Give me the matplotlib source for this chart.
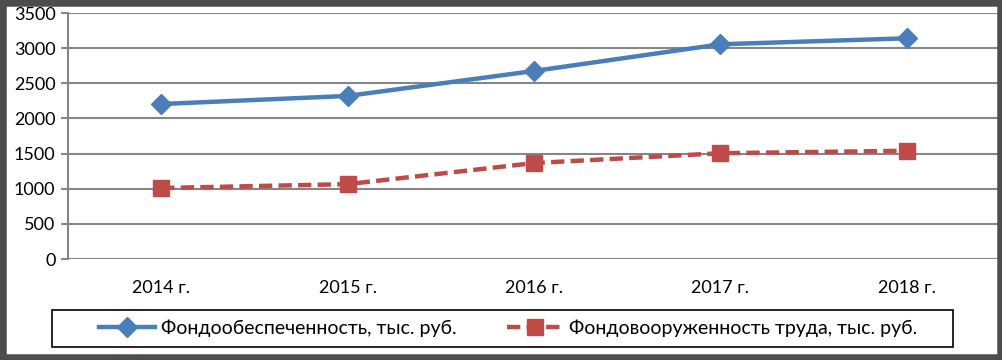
import matplotlib
matplotlib.use("Agg")
import matplotlib.pyplot as plt
from matplotlib.patches import Rectangle

categories = ["2014 г.", "2015 г.", "2016 г.", "2017 г.", "2018 г."]
fondoobesp = [2205, 2320, 2675, 3055, 3140]
fondovooruzh = [1010, 1065, 1365, 1505, 1540]
yticks = [0, 500, 1000, 1500, 2000, 2500, 3000, 3500]
label1 = "Фондообеспеченность, тыс. руб."
label2 = "Фондовооруженность труда, тыс. руб."

plt.rcParams['font.family'] = ['Lato', 'DejaVu Sans']

W, H = 1003, 360
fig = plt.figure(figsize=(W/100, H/100), dpi=100)
ax = fig.add_axes([68/W, 1 - 259/H, (1000-68)/W, (259-13)/H])

x = list(range(len(categories)))
ax.plot(x, fondoobesp, color="#4A7EBB", lw=3.2, marker="D", ms=10,
        markerfacecolor="#4A7EBB", markeredgecolor="#4A7EBB", label=label1, zorder=3)
ax.plot(x, fondovooruzh, color="#BE4B48", lw=3.2, ls=(0, (3.0, 1.4)), marker="s", ms=12,
        markerfacecolor="#BE4B48", markeredgecolor="#BE4B48", label=label2, zorder=3)

ax.set_xlim(-0.5, len(categories) - 0.5)
ax.set_ylim(0, 3500)
ax.set_yticks(yticks)
ax.set_xticks(x)
ax.set_xticklabels(categories)
ax.grid(axis="y", color="#868686", lw=1.5)
ax.set_axisbelow(True)
for s in ["top", "right", "bottom"]:
    ax.spines[s].set_visible(False)
ax.spines["left"].set_color("#868686")
ax.spines["left"].set_linewidth(1.5)
ax.tick_params(axis="y", length=5, width=1.5, color="#868686", labelsize=13, pad=4)
ax.tick_params(axis="x", length=0, labelsize=13, pad=15)

# legend frame box
fig.patches.append(Rectangle((52/W, 1 - 347/H), (953-52)/W, (347-310)/H,
                             transform=fig.transFigure, fill=False,
                             edgecolor="black", lw=1.2, zorder=5))
leg = fig.legend(loc="center", bbox_to_anchor=(508/W, 1 - 328.5/H),
                 ncol=2, frameon=False, fontsize=14,
                 handlelength=2.9, handletextpad=0.3, borderaxespad=0, columnspacing=2.6)

fig.patches.append(Rectangle((0, 0), 1, 1, transform=fig.transFigure, fill=False,
                             edgecolor="#4d4d4d", lw=9, zorder=10))

fig.savefig("out.png", dpi=100)
